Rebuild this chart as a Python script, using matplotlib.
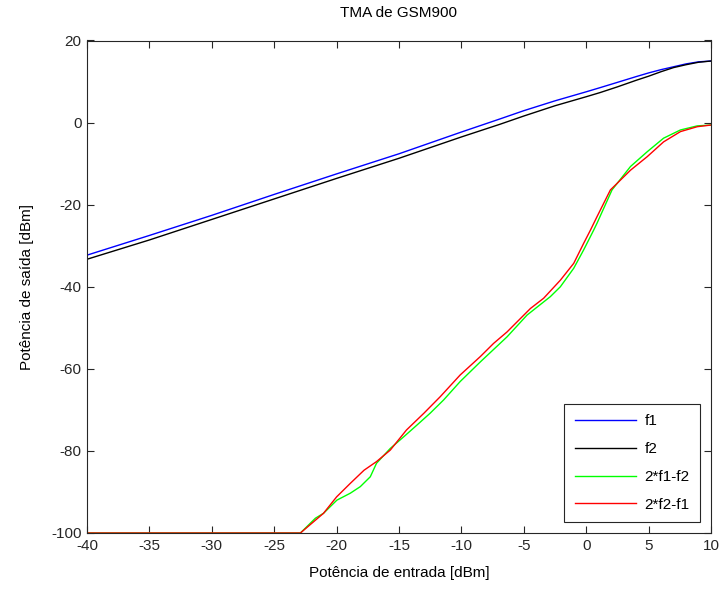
import matplotlib
matplotlib.use("Agg")
import matplotlib.pyplot as plt
import numpy as np

plt.rcParams['font.family'] = ['Liberation Sans', 'DejaVu Sans']
plt.rcParams['axes.unicode_minus'] = False

# Input power [dBm]
x_fund = [-40, -35, -30, -25, -20, -15, -10, -6.9, -5, -2.5, 0, 1.1, 2.5, 4, 5, 6, 7, 8, 9, 10]
f1 = [-32.3, -27.5, -22.6, -17.5, -12.5, -7.6, -2.3, 0.9, 2.9, 5.3, 7.5, 8.5, 9.8, 11.2, 12.1, 12.9, 13.6, 14.3, 14.8, 15.0]
f2 = [-33.3, -28.6, -23.6, -18.6, -13.6, -8.7, -3.5, -0.4, 1.6, 4.1, 6.3, 7.3, 8.7, 10.3, 11.3, 12.4, 13.4, 14.1, 14.7, 15.0]

x_im_g = [-40, -30, -22.9, -21.7, -21.05, -19.98, -18.9, -18.1, -17.3, -16.8, -15.7, -14.6, -13.56,
          -12.5, -11.43, -10.1, -8.48, -6.34, -4.74, -2.87, -2.07, -1.0, -0.2, 0.6, 0.87,
          2.07, 3.55, 4.89, 6.2, 7.55, 8.9, 10.0]
im_g = [-100, -100, -100, -96.4, -95.2, -92.0, -90.3, -88.7, -86.3, -83.0, -79.4, -76.5, -73.7,
        -70.8, -67.6, -63.1, -58.3, -52.2, -46.9, -42.4, -40.0, -35.5, -31.0, -26.2, -24.5,
        -16.4, -10.7, -7.1, -3.8, -1.8, -0.8, -0.6]

x_im_r = [-40, -30, -22.9, -21.05, -20.0, -18.9, -17.8, -16.8, -15.7, -14.4, -13.0, -11.7, -10.1,
          -8.48, -7.42, -6.34, -4.47, -3.41, -2.07, -1.0, -0.2, 0.34, 0.87, 1.94, 2.48,
          3.55, 4.89, 6.2, 7.55, 8.9, 10.0]
im_r = [-100, -100, -100, -95.2, -91.2, -87.9, -84.7, -82.6, -79.8, -74.9, -70.8, -66.8, -61.5,
        -57.0, -53.8, -51.0, -45.3, -42.8, -38.4, -34.3, -29.4, -26.2, -22.9, -16.4, -14.8,
        -11.6, -8.3, -4.7, -2.2, -1.0, -0.6]

labels = ['f1', 'f2', '2*f1-f2', '2*f2-f1']
title = 'TMA de GSM900'
xlabel = 'Potência de entrada [dBm]'
ylabel = 'Potência de saída [dBm]'
xticks = [-40, -35, -30, -25, -20, -15, -10, -5, 0, 5, 10]
yticks = [-100, -80, -60, -40, -20, 0, 20]

fig = plt.figure(figsize=(7.25, 5.93), dpi=100)
ax = fig.add_axes([87/725, 1-533/593, (711-87)/725, (533-40.5)/593])

ax.plot(x_fund, f1, color='#0000ff', lw=1.0, label=labels[0])
ax.plot(x_fund, f2, color='#000000', lw=1.0, label=labels[1])
ax.plot(x_im_g, im_g, color='#00ff00', lw=1.0, label=labels[2])
ax.plot(x_im_r, im_r, color='#ff0000', lw=1.0, label=labels[3])

ax.set_xlim(-40, 10)
ax.set_ylim(-100, 20)
ax.set_xticks(xticks)
ax.set_yticks(yticks)
ax.tick_params(direction='in', top=True, right=True, length=5, width=0.8,
               labelsize=11, colors='#262626', pad=4)
for s in ax.spines.values():
    s.set_color('#262626')
    s.set_linewidth(0.8)

ax.set_title(title, fontsize=11, pad=17)
ax.set_xlabel(xlabel, fontsize=11, labelpad=10)
ax.set_ylabel(ylabel, fontsize=11, labelpad=12)

leg = ax.legend(loc='lower right', fontsize=11, handlelength=4.0, handletextpad=0.55,
                borderpad=0.7, labelspacing=0.9, fancybox=False, framealpha=1,
                borderaxespad=0.7)
leg.get_frame().set_edgecolor('#262626')
leg.get_frame().set_linewidth(0.8)

fig.savefig('out.png', dpi=100)
